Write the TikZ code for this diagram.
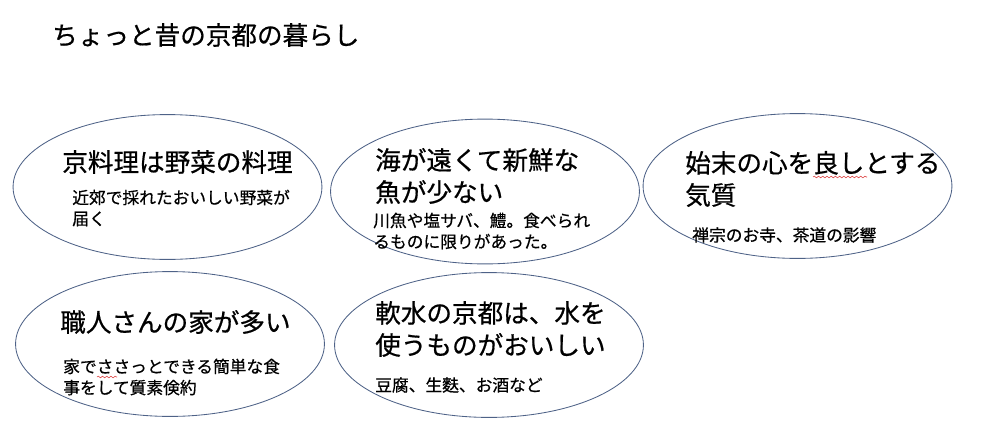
\documentclass[tikz,border=0pt]{standalone}
\usepackage{fontspec}
\setmainfont[FakeBold=0.6,AutoFakeBold=0.6]{Noto Sans CJK JP}
\usepackage{tikz}
\usetikzlibrary{shapes.geometric,decorations.pathmorphing}

\definecolor{rimblue}{RGB}{78,98,135}
\definecolor{spellred}{RGB}{220,60,60}

\begin{document}
\begin{tikzpicture}[
    x=0.025cm, y=-0.025cm,
    bubble/.style={ellipse, draw=rimblue, line width=0.6pt, minimum width=7.72cm, minimum height=3.62cm, inner sep=0pt},
    headline/.style={anchor=west, inner sep=0pt, align=left, font=\fontsize{18.2}{22.8}\selectfont\bfseries},
    detail/.style={anchor=west, inner sep=0pt, align=left, font=\fontsize{11.9}{15}\selectfont\bfseries},
    wavy/.style={draw=spellred, line width=0.4pt, decorate, decoration={snake, amplitude=0.6pt, segment length=3pt}}
]
\useasboundingbox (0,0) rectangle (981,447);

% Title
\node[headline] (title) at (52,35) {ちょっと昔の京都の暮らし};

% Ellipses
\node[bubble] (kyoryori) at (167.5,187) {};
\node[bubble] (umi) at (485,191.5) {};
\node[bubble] (shimatsu) at (797.5,186) {};
\node[bubble] (shokunin) at (170,344) {};
\node[bubble] (nansui) at (489,345) {};

% Headings
\node[headline] (kyoryoriHead) at (62,162) {京料理は野菜の料理};
\node[headline] (umiHead) at (375,176) {海が遠くて新鮮な\\魚が少ない};
\node[headline] (shimatsuHead) at (685,179) {始末の心を良しとする\\気質};
\node[headline] (shokuninHead) at (60,322) {職人さんの家が多い};
\node[headline] (nansuiHead) at (375,329) {軟水の京都は、水を\\使うものがおいしい};

% Details
\node[detail] (kyoryoriText) at (72,208) {近郊で採れたおいしい野菜が\\届く};
\node[detail] (umiText) at (373,231) {川魚や塩サバ、鱧。食べられ\\るものに限りがあった。};
\node[detail] (shimatsuText) at (692,235) {禅宗のお寺、茶道の影響};
\node[detail] (shokuninText) at (63,377) {家でささっとできる簡単な食\\事をして質素倹約};
\node[detail] (nansuiText) at (375,385) {豆腐、生麩、お酒など};

% Spell-check marks
\draw[wavy] (813,177) -- (867,177);
\draw[wavy] (97,377) -- (117,377);

\end{tikzpicture}
\end{document}
